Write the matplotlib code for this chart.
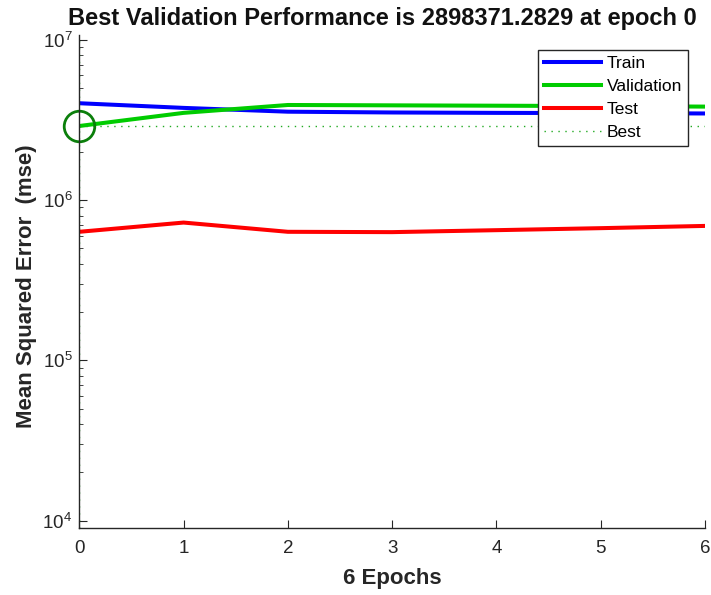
import numpy as np
import matplotlib.pyplot as plt

plt.rcParams['font.family'] = ['Liberation Sans', 'DejaVu Sans']

# datos
epochs = [0, 1, 2, 3, 4, 5, 6]
train = [4.02e6, 3.76e6, 3.56e6, 3.52e6, 3.50e6, 3.49e6, 3.47e6]
validation = [2898371.2829, 3.50e6, 3.92e6, 3.90e6, 3.88e6, 3.86e6, 3.83e6]
test = [6.34e5, 7.24e5, 6.34e5, 6.31e5, 6.49e5, 6.68e5, 6.90e5]
best_epoch = 0
best_value = 2898371.2829

fig = plt.figure(figsize=(7.11, 5.95), dpi=100)
ax = fig.add_axes([0.1115, 0.1131, 0.8801, 0.8281])

ax.plot(epochs, train, color='#0000ff', lw=2.9, label='Train')
ax.plot(epochs, validation, color='#00cc00', lw=2.9, label='Validation')
ax.plot(epochs, test, color='#ff0000', lw=2.9, label='Test')
ax.axhline(best_value, color='#22aa22', ls=(0, (1, 4)), lw=1.0, label='Best')
ax.axvline(best_epoch, color='#22aa22', ls=(0, (1, 4)), lw=1.0)
ax.plot([best_epoch], [best_value], 'o', ms=22, mfc='none', mec='#0b7f0b', mew=2.0,
        clip_on=False)

ax.set_yscale('log')
ax.set_xlim(0, 6)
ax.set_ylim(10**3.956, 10**7.03)
ax.set_xticks(range(7))

for s in ['top', 'right']:
    ax.spines[s].set_visible(False)
for s in ['left', 'bottom']:
    ax.spines[s].set_color('#262626')
    ax.spines[s].set_linewidth(1.0)

ax.tick_params(which='both', direction='in', colors='#262626', labelsize=13.5)
ax.tick_params(which='major', length=6)
ax.tick_params(which='minor', length=3)
ax.tick_params(axis='x', pad=9)
ax.tick_params(axis='y', pad=5)

ax.set_title('Best Validation Performance is 2898371.2829 at epoch 0',
             fontsize=17, fontweight='bold', color='#111111', pad=7, x=0.484)
ax.set_xlabel('6 Epochs', fontsize=16, fontweight='bold', color='#262626', labelpad=8)
ax.set_ylabel('Mean Squared Error  (mse)', fontsize=16, fontweight='bold',
              color='#262626')
ax.yaxis.set_label_coords(-0.067, 0.49)

leg = ax.legend(loc='upper right', bbox_to_anchor=(0.973, 0.969), fontsize=12.5,
                frameon=True, fancybox=False, framealpha=1, edgecolor='#262626',
                handlelength=3.3, handletextpad=0.3, borderpad=0.35,
                labelspacing=0.45, borderaxespad=0)
leg.get_frame().set_linewidth(1.0)

fig.savefig('out.png', dpi=100)
